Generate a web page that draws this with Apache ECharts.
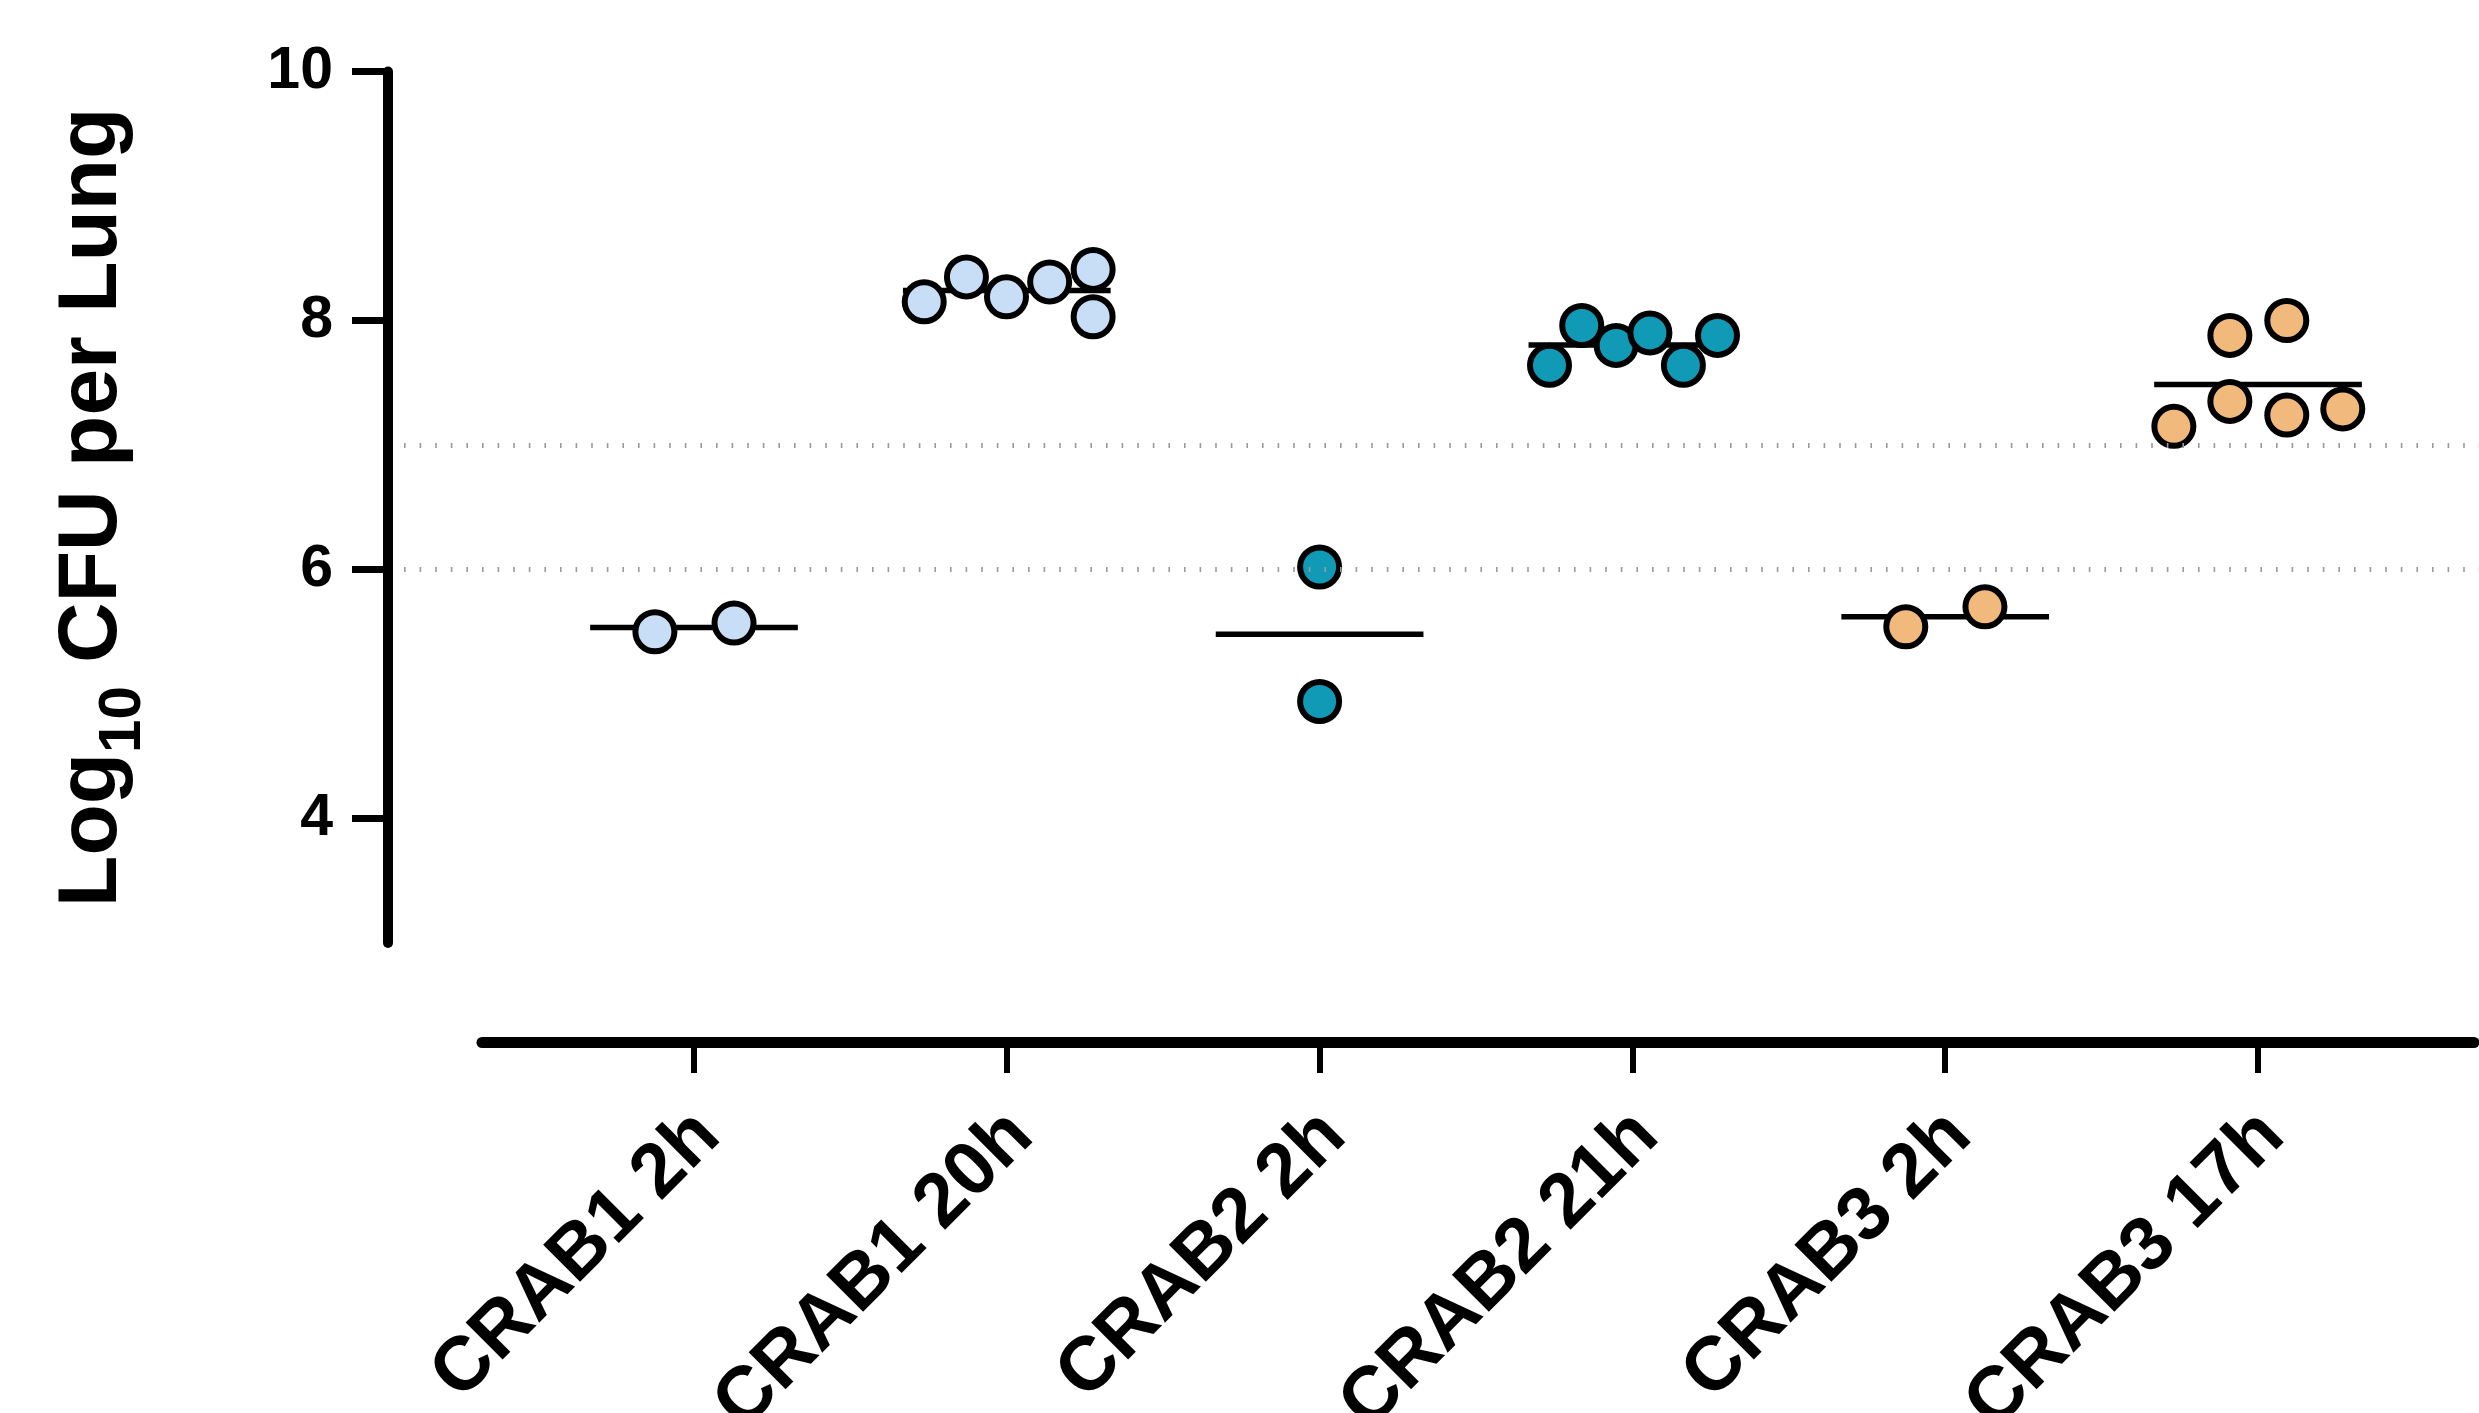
<!DOCTYPE html>
<html><head><meta charset="utf-8">
<script src="https://cdn.jsdelivr.net/npm/echarts@6/dist/echarts.min.js"></script>
<style>html,body{margin:0;padding:0;background:#fff}#c{width:2479px;height:1413px}</style>
</head><body><div id="c"></div>
<script>
// ---- data ----
const categories = ['CRAB1 2h', 'CRAB1 20h', 'CRAB2 2h', 'CRAB2 21h', 'CRAB3 2h', 'CRAB3 17h'];
const crab1_2h  = [5.50, 5.57];
const crab1_20h = [8.15, 8.35, 8.19, 8.31, 8.41, 8.03];
const crab2_2h  = [6.02, 4.94];
const crab2_21h = [7.64, 7.96, 7.80, 7.90, 7.64, 7.88];
const crab3_2h  = [5.54, 5.70];
const crab3_17h = [7.15, 7.88, 7.35, 8.00, 7.24, 7.29];
// horizontal scatter offsets of each point within its column (category units)
const jitter_crab1_2h  = [-0.125, 0.128];
const jitter_crab1_20h = [-0.264, -0.129, -0.001, 0.137, 0.276, 0.276];
const jitter_crab2_2h  = [0, 0];
const jitter_crab2_21h = [-0.265, -0.162, -0.052, 0.056, 0.163, 0.272];
const jitter_crab3_2h  = [-0.126, 0.127];
const jitter_crab3_17h = [-0.269, -0.090, -0.090, 0.092, 0.092, 0.271];
const yTickValues = [4, 6, 8, 10];
const referenceLines = [6, 7];

// ---- styles ----
const FONT = "'Liberation Sans', Arial, Helvetica, sans-serif";
const groupColors = ['#C8DEF6', '#C8DEF6', '#119AB5', '#119AB5', '#F2B97D', '#F2B97D'];
const MEAN_HALF = 0.332;

const groups = [crab1_2h, crab1_20h, crab2_2h, crab2_21h, crab3_2h, crab3_17h];
const jitters = [jitter_crab1_2h, jitter_crab1_20h, jitter_crab2_2h, jitter_crab2_21h, jitter_crab3_2h, jitter_crab3_17h];
const mean = a => a.reduce((s, v) => s + v, 0) / a.length;
const catIdx = categories.map((c, i) => i);

const series = [];
groups.forEach((vals, i) => {
  const m = mean(vals);
  series.push({
    type: 'line', xAxisIndex: 0, yAxisIndex: 0, silent: true,
    data: [[i - MEAN_HALF, m], [i + MEAN_HALF, m]],
    symbol: 'none', lineStyle: { color: '#000', width: 5.5 }, z: 2
  });
  series.push({
    type: 'scatter', xAxisIndex: 0, yAxisIndex: 0,
    data: vals.map((v, k) => [i + jitters[i][k], v]),
    symbol: 'circle', symbolSize: 39,
    itemStyle: { color: groupColors[i], borderColor: '#000', borderWidth: 6, opacity: 1 },
    z: 3
  });
});
series[0].markLine = {
  silent: true, symbol: 'none', label: { show: false },
  lineStyle: { color: '#9a9a9a', width: 5, type: [1.6, 14] },
  data: referenceLines.map(v => ({ yAxis: v }))
};

const chart = echarts.init(document.getElementById('c'), null, { renderer: 'canvas' });
chart.setOption({
  animation: false,
  backgroundColor: '#fff',
  grid: [
    { left: 404, right: 0, top: 71.5, height: 871.5, outerBoundsMode: 'none', containLabel: false },
    { left: 482, right: 5, top: 71.5, height: 970.5, outerBoundsMode: 'none', containLabel: false }
  ],
  xAxis: [
    { gridIndex: 0, type: 'value', min: -0.9271, max: 5.7065, show: false },
    {
      gridIndex: 1, type: 'value', min: -0.6777, max: 5.6905,
      axisLine: { show: true, onZero: false, lineStyle: { color: '#000', width: 11 } },
      axisTick: { show: true, length: 31, customValues: catIdx, lineStyle: { color: '#000', width: 6 } },
      axisLabel: {
        show: true, customValues: catIdx, rotate: 45, margin: 68,
        verticalAlign: 'top', lineHeight: 40,
        formatter: v => categories[Math.round(v)],
        fontSize: 76, fontWeight: 'bold', fontFamily: FONT, color: '#000'
      },
      splitLine: { show: false }
    }
  ],
  yAxis: [
    {
      gridIndex: 0, type: 'value', min: 3, max: 10, offset: 16,
      axisLine: { show: true, onZero: false, lineStyle: { color: '#000', width: 10 } },
      axisTick: { show: true, length: 36, customValues: yTickValues, lineStyle: { color: '#000', width: 7 } },
      axisLabel: { customValues: yTickValues, margin: 55, fontSize: 59, fontWeight: 'bold', fontFamily: FONT, color: '#000' },
      splitLine: { show: false },
      name: '{m|Log}{s|10}{m| CFU per Lung}',
      nameLocation: 'middle', nameRotate: 90, nameGap: 253,
      nameTextStyle: {
        color: '#000', fontFamily: FONT, fontWeight: 'bold', fontSize: 84,
        rich: {
          m: { fontSize: 84, fontWeight: 'bold', fontFamily: FONT, color: '#000', verticalAlign: 'top', lineHeight: 84 },
          s: { fontSize: 60, fontWeight: 'bold', fontFamily: FONT, color: '#000', verticalAlign: 'top', lineHeight: 60, padding: [42, 0, 0, 0] }
        }
      }
    },
    { gridIndex: 1, type: 'value', min: 3, max: 10, show: false }
  ],
  series: series
});
</script>
</body></html>
